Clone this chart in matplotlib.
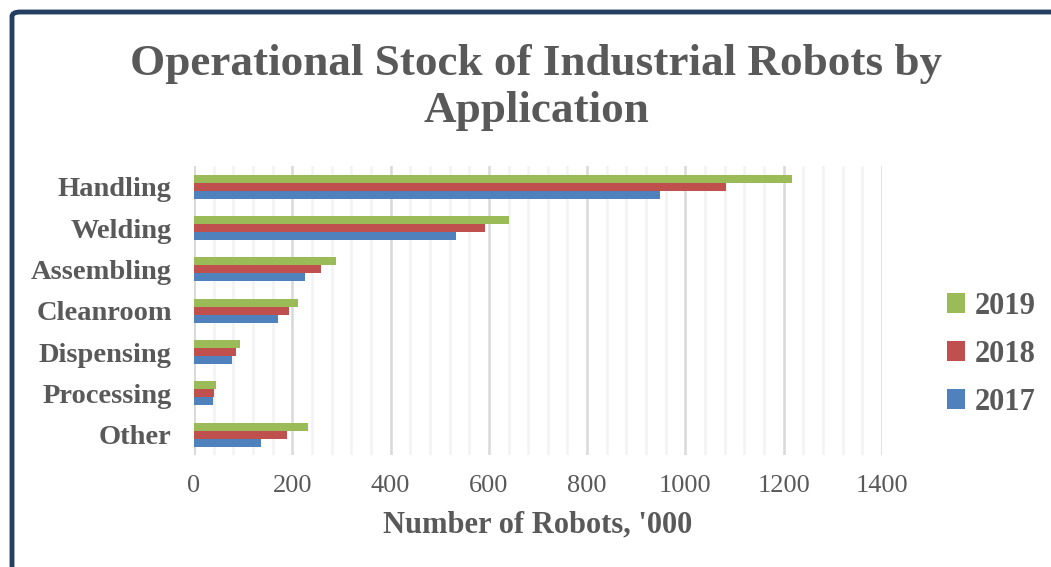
import numpy as np
import matplotlib
matplotlib.use('Agg')
import matplotlib.pyplot as plt
from matplotlib.patches import FancyBboxPatch
from matplotlib.ticker import MultipleLocator

categories = ['Handling', 'Welding', 'Assembling', 'Cleanroom', 'Dispensing', 'Processing', 'Other']
years = ['2019', '2018', '2017']
vals_2019 = [1216, 641, 288, 211, 94, 44, 231]
vals_2018 = [1083, 593, 259, 194, 86, 41, 190]
vals_2017 = [948, 534, 225, 171, 78, 38, 137]
colors = ['#9BBB59', '#C0504D', '#4F81BD']

GRAY = '#595959'
SERIF = 'Liberation Serif'

def main():
  fig = plt.figure(figsize=(10.51, 5.67), dpi=100)
  ax = fig.add_axes([0.1846, 0.197, 0.6546, 0.510])

  y = np.arange(len(categories))
  h = 0.195
  series = [vals_2019, vals_2018, vals_2017]
  bars = []
  for i, (vals, c) in enumerate(zip(series, colors)):
    b = ax.barh(y + (i - 1) * h, vals, height=h, color=c, zorder=3)
    bars.append(b)

  ax.set_ylim(len(categories) - 0.5, -0.5)
  ax.set_xlim(0, 1400)
  ax.xaxis.set_major_locator(MultipleLocator(200))
  ax.xaxis.set_minor_locator(MultipleLocator(40))
  ax.grid(axis='x', which='major', color='#D9D9D9', lw=1.8, zorder=0)
  ax.grid(axis='x', which='minor', color='#F2F2F2', lw=1.8, zorder=0)
  ax.axvline(0, color='#D9D9D9', lw=2, zorder=1)
  for s in ax.spines.values():
    s.set_visible(False)
  ax.tick_params(which='both', length=0)
  ax.tick_params(axis='x', pad=14)
  ax.tick_params(axis='y', pad=16)

  ax.set_yticks(y)
  ax.set_yticklabels(categories, fontfamily=SERIF, fontweight='bold', fontsize=20.5, color=GRAY)
  for t in ax.get_xticklabels():
    t.set_fontfamily(SERIF)
    t.set_fontsize(19)
    t.set_color(GRAY)
  ax.set_xlabel("Number of Robots, '000", fontfamily=SERIF, fontweight='bold', fontsize=22,
                color=GRAY, labelpad=10)

  fig.text(0.51, 0.846, 'Operational Stock of Industrial Robots by\nApplication', ha='center', va='center',
           fontfamily=SERIF, fontweight='bold', fontsize=32.5, color=GRAY, linespacing=1.22)

  leg = fig.legend([b[0] for b in bars], years, loc='center left', bbox_to_anchor=(0.875, 0.375),
                   frameon=False, prop={'family': SERIF, 'weight': 'bold', 'size': 22},
                   handlelength=0.6, handleheight=0.6, handletextpad=0.3, labelspacing=0.62)
  for t in leg.get_texts():
    t.set_color(GRAY)

  border = FancyBboxPatch((12 / 1051, -0.2), 1.2, 1.2 - 12 / 567 + 0.0, transform=fig.transFigure,
                          boxstyle='round,pad=0,rounding_size=0.008', fill=False,
                          edgecolor='#243F60', lw=3.5, zorder=10)
  fig.patches.append(border)

  fig.savefig('out.png', dpi=100)
  plt.close(fig)

if __name__ == '__main__':
  main()
